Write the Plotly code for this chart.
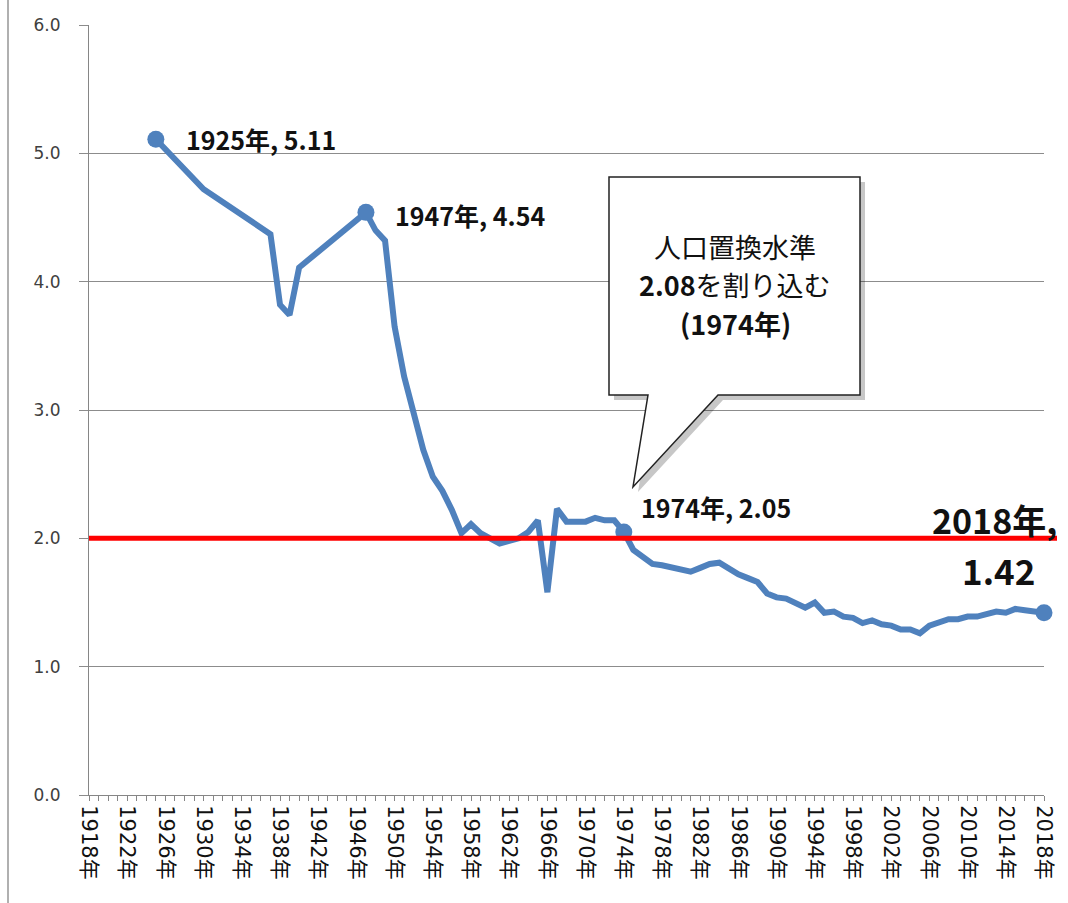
import plotly.graph_objects as go

# ---------------- data ----------------
years = [1925, 1930, 1937, 1938, 1939, 1940, 1947, 1948, 1949, 1950,
         1951, 1952, 1953, 1954, 1955, 1956, 1957, 1958, 1959, 1960,
         1961, 1962, 1963, 1964, 1965, 1966, 1967, 1968, 1969, 1970,
         1971, 1972, 1973, 1974, 1975, 1976, 1977, 1978, 1979, 1980,
         1981, 1982, 1983, 1984, 1985, 1986, 1987, 1988, 1989, 1990,
         1991, 1992, 1993, 1994, 1995, 1996, 1997, 1998, 1999, 2000,
         2001, 2002, 2003, 2004, 2005, 2006, 2007, 2008, 2009, 2010,
         2011, 2012, 2013, 2014, 2015, 2016, 2017, 2018]
tfr = [5.11, 4.72, 4.37, 3.82, 3.74, 4.11, 4.54, 4.40, 4.32, 3.65,
       3.26, 2.98, 2.69, 2.48, 2.37, 2.22, 2.04, 2.11, 2.04, 2.00,
       1.96, 1.98, 2.00, 2.05, 2.14, 1.58, 2.23, 2.13, 2.13, 2.13,
       2.16, 2.14, 2.14, 2.05, 1.91, 1.85, 1.80, 1.79, 1.77, 1.75,
       1.74, 1.77, 1.80, 1.81, 1.76, 1.72, 1.69, 1.66, 1.57, 1.54,
       1.53, 1.50, 1.46, 1.50, 1.42, 1.43, 1.39, 1.38, 1.34, 1.36,
       1.33, 1.32, 1.29, 1.29, 1.26, 1.32, 1.34, 1.37, 1.37, 1.39,
       1.39, 1.41, 1.43, 1.42, 1.45, 1.44, 1.43, 1.42]

tick_years = [1918, 1922, 1926, 1930, 1934, 1938, 1942, 1946, 1950, 1954,
              1958, 1962, 1966, 1970, 1974, 1978, 1982, 1986, 1990, 1994,
              1998, 2002, 2006, 2010, 2014, 2018]
tick_labels = [f"{y}年" for y in tick_years]

y_ticks = [0, 1, 2, 3, 4, 5, 6]
y_tick_labels = ["0.0", "1.0", "2.0", "3.0", "4.0", "5.0", "6.0"]

highlight_years = [1925, 1947, 1974, 2018]
replacement_line = 2.0
callout_lines = ["人口置換水準", "<b>2.08</b>を割り込む", "<b>(1974年)</b>"]

# ---------------- geometry ----------------
W, H = 1068, 903
ML, MR, MT, MB = 89, 24, 25, 108
PW, PH = W - ML - MR, H - MT - MB


def P(px, py):
    return (px - ML) / PW, (H - MB - py) / PH


def path_from(points, dx=0, dy=0):
    parts = []
    for i, (px, py) in enumerate(points):
        x, y = P(px + dx, py + dy)
        parts.append(("M" if i == 0 else "L") + f"{x:.5f},{y:.5f}")
    return " ".join(parts) + " Z"


FONT = "Noto Sans CJK JP"
BLUE = "#4F81BD"
GRID = "#8c8c8c"

fig = go.Figure()
fig.add_trace(go.Scatter(
    x=years, y=tfr, mode="lines",
    line=dict(color=BLUE, width=6),
    cliponaxis=False, hoverinfo="skip"))

hv = [tfr[years.index(y)] for y in highlight_years]
fig.add_trace(go.Scatter(
    x=highlight_years, y=hv, mode="markers",
    marker=dict(color=BLUE, size=17),
    cliponaxis=False, hoverinfo="skip"))

# callout balloon
balloon = [(609, 177), (860, 177), (860, 395), (718, 395), (633, 487),
           (648, 395), (609, 395)]
shapes = [
    dict(type="path", xref="paper", yref="paper",
         path=path_from(balloon, 5, 5),
         fillcolor="rgba(0,0,0,0.22)", line=dict(width=0), layer="above"),
    dict(type="path", xref="paper", yref="paper",
         path=path_from(balloon),
         fillcolor="white", line=dict(color="#222222", width=1.5), layer="above"),
    dict(type="line", xref="paper", yref="y",
         x0=0, x1=P(1057, 0)[0], y0=replacement_line, y1=replacement_line,
         line=dict(color="#FF0000", width=5), layer="above"),
    dict(type="line", xref="paper", yref="paper",
         x0=P(8, 0)[0], x1=P(8, 0)[0], y0=P(0, 903)[1], y1=P(0, 0)[1],
         line=dict(color="#b0b0b0", width=2)),
]

annotations = []
# data labels
lab_cfg = {1925: (28, 0), 1947: (27, -3), 1974: (15, 25)}
for y, v in zip(highlight_years, hv):
    if y in lab_cfg:
        xs, ys = lab_cfg[y]
        annotations.append(dict(
            x=y, y=v, xref="x", yref="y", text=f"<b>{y}年, {v:.2f}</b>",
            showarrow=False, xanchor="left", yanchor="middle",
            xshift=xs, yshift=ys, font=dict(family=FONT, size=25, color="#111")))
# big 2018 label
y_last, v_last = highlight_years[-1], hv[-1]
annotations.append(dict(
    x=y_last, y=v_last, xref="x", yref="y", text=f"<b>{y_last}年,</b>",
    showarrow=False, xanchor="center", yanchor="middle",
    xshift=-50, yshift=93, font=dict(family=FONT, size=34, color="#111")))
annotations.append(dict(
    x=y_last, y=v_last, xref="x", yref="y", text=f"<b>{v_last:.2f}</b>",
    showarrow=False, xanchor="center", yanchor="middle",
    xshift=-46, yshift=43, font=dict(family=FONT, size=35, color="#111")))
# callout text
for i, t in enumerate(callout_lines):
    cx, cy = P(735, 246 + i * 38.5)
    annotations.append(dict(
        x=cx, y=cy, xref="paper", yref="paper", text=t, showarrow=False,
        xanchor="center", yanchor="middle",
        font=dict(family=FONT, size=27, color="#111")))

fig.update_layout(
    width=W, height=H,
    margin=dict(l=ML, r=MR, t=MT, b=MB),
    paper_bgcolor="white", plot_bgcolor="white",
    showlegend=False,
    shapes=shapes, annotations=annotations,
    xaxis=dict(
        range=[1918, 2018], tickmode="array", tickvals=tick_years, ticktext=tick_labels,
        tickangle=90, showgrid=False, zeroline=False,
        showline=True, linecolor="#868686", linewidth=1,
        ticks="outside", ticklen=5, tickcolor="#868686",
        tickfont=dict(family="DejaVu Sans, Noto Sans CJK JP", size=21, color="#111"),
        minor=dict(dtick=1, tick0=1918, ticks="outside", ticklen=5,
                   tickcolor="#868686", showgrid=False),
    ),
    yaxis=dict(
        range=[0, 6], tickmode="array", tickvals=y_ticks, ticktext=y_tick_labels,
        showgrid=True, gridcolor=GRID, gridwidth=1, zeroline=False,
        showline=True, linecolor="#868686", linewidth=1,
        ticks="outside", ticklen=9, tickcolor=GRID,
        ticklabelstandoff=15,
        tickfont=dict(family="DejaVu Sans", size=17, color="#404040"),
    ),
)

fig.write_html("out.html")
